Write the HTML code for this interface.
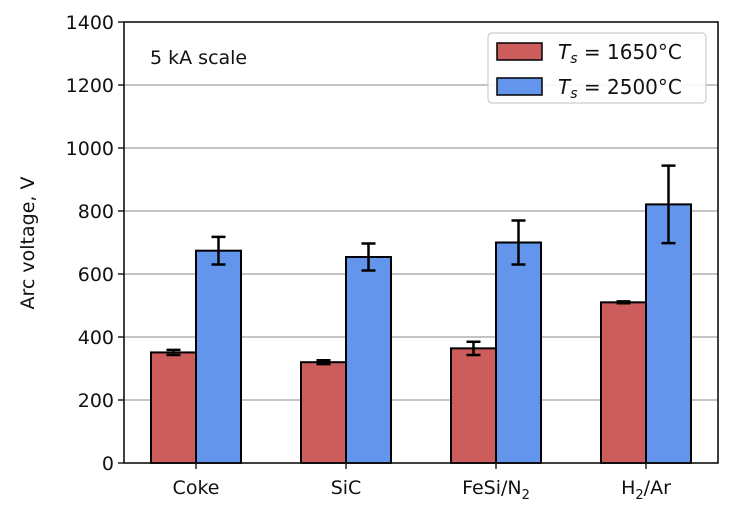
<!DOCTYPE html>
<html><head><meta charset="utf-8"><style>
body{margin:0;background:#fff;}
svg text{font-family:"DejaVu Sans","Liberation Sans",sans-serif;fill:#111;}
</style></head><body>
<svg id="chart" width="744" height="515" viewBox="0 0 744 515">
<g id="grid"></g><g id="bars"></g><g id="axes"></g>
</svg>
<script>
const categories=["Coke","SiC","FeSi/N","H/Ar"];
const categorySubs=["","","2","2"];
const lowValues=[351,320,364,510];
const lowErrors=[8,6,21,3];
const highValues=[674,654,700,821];
const highErrors=[44,43,70,123];
const yTicks=[0,200,400,600,800,1000,1200,1400];

const NS="http://www.w3.org/2000/svg";
const L=124,R=718,T=22,B=463,yMax=1400;
const y=v=>B-(v/yMax)*(B-T);
const xc=i=>196+i*150;
const bw=45;
function mk(tag,attrs,parent,txt){const e=document.createElementNS(NS,tag);for(const k in attrs)e.setAttribute(k,attrs[k]);if(txt!==undefined)e.textContent=txt;parent.appendChild(e);return e;}
const grid=document.getElementById('grid'),bars=document.getElementById('bars'),axes=document.getElementById('axes');
yTicks.forEach(t=>{
  if(t>0&&t<yMax){const g=mk('line',{x1:L,x2:R,y1:y(t),y2:y(t),stroke:'#b0b0b0','stroke-width':1.6},grid);
  
  }
  const tk=mk('line',{x1:L-6,x2:L,y1:y(t),y2:y(t),stroke:'#111','stroke-width':1.4},axes);
  
  
  const lb=mk('text',{x:L-10,y:y(t)+7,'text-anchor':'end','font-size':19},axes,String(t));
  
  
});
function bar(x,v,e,fill,name){
  const r=mk('rect',{x:x,y:y(v),width:bw,height:B-y(v),fill:fill,stroke:'#000','stroke-width':2},bars);
  
  
  const cx=x+bw/2;
  const eb=mk('path',{d:`M${cx},${y(v+e)}V${y(v-e)}M${cx-7},${y(v+e)}H${cx+7}M${cx-7},${y(v-e)}H${cx+7}`,stroke:'#000','stroke-width':2.5,fill:'none'},bars);
  
  
}
categories.forEach((c,i)=>{
  bar(xc(i)-bw,lowValues[i],lowErrors[i],'#cd5c5c','bar-1650-'+i);
  bar(xc(i),highValues[i],highErrors[i],'#6495ed','bar-2500-'+i);
  const tk=mk('line',{x1:xc(i),x2:xc(i),y1:B,y2:B+6,stroke:'#111','stroke-width':1.4},axes);
  
  
  const lb=mk('text',{x:xc(i),y:B+31,'text-anchor':'middle','font-size':19},axes);
  
  
  const sub=categorySubs[i];
  if(c.startsWith('H')&&sub){
    mk('tspan',{},lb,'H');
    mk('tspan',{'font-size':13,dy:5},lb,sub);
    mk('tspan',{dy:-5},lb,c.slice(1));
  } else {
    mk('tspan',{},lb,c);
    if(sub) mk('tspan',{'font-size':13,dy:5},lb,sub);
  }
});
const fr=mk('rect',{x:L,y:T,width:R-L,height:B-T,fill:'none',stroke:'#111','stroke-width':1.6},axes);


</script>
<svg style="position:absolute;left:0;top:0" width="744" height="515">
<text x="34" y="243" transform="rotate(-90 34 243)" text-anchor="middle" font-size="19">Arc voltage, V</text>
<text x="150" y="64" font-size="19">5 kA scale</text>
<g>
<rect x="488" y="33" width="218" height="70" rx="4" fill="#fff" fill-opacity="0.9" stroke="#ccc" stroke-width="1.2"/>
<rect x="497" y="43" width="45" height="17" fill="#cd5c5c" stroke="#000" stroke-width="1.5"/>
<text x="558" y="59" font-size="20"><tspan font-style="italic">T</tspan><tspan font-style="italic" font-size="14" dy="4">s</tspan><tspan dy="-4"> = 1650°C</tspan></text>
<rect x="497" y="78" width="45" height="17" fill="#6495ed" stroke="#000" stroke-width="1.5"/>
<text x="558" y="94" font-size="20"><tspan font-style="italic">T</tspan><tspan font-style="italic" font-size="14" dy="4">s</tspan><tspan dy="-4"> = 2500°C</tspan></text>
</g>
</svg>
</body></html>
